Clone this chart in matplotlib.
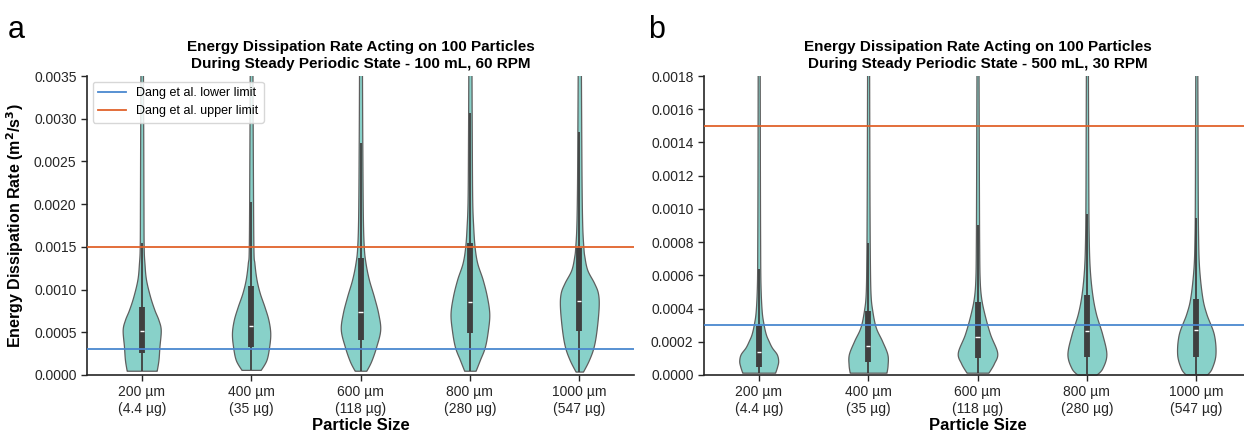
import numpy as np
import matplotlib
matplotlib.use("Agg")
import matplotlib.pyplot as plt

plt.rcParams['font.family'] = ['Liberation Sans', 'DejaVu Sans']

# ---------------- data ----------------
categories = ["200 µm\n(4.4 µg)", "400 µm\n(35 µg)", "600 µm\n(118 µg)",
              "800 µm\n(280 µg)", "1000 µm\n(547 µg)"]

lower_limit = 0.0003
upper_limit = 0.0015

# Panel a: 100 mL, 60 RPM -- violin outlines (value, half-width in category units)
a_prof_y = [
    [0.00005, 0.000176, 0.000333, 0.000528, 0.000646, 0.000763, 0.00092, 0.00112, 0.00131, 0.0015, 0.002, 0.0028, 0.0037],
    [0.00006, 0.000176, 0.000333, 0.00049, 0.000646, 0.0008, 0.00096, 0.00112, 0.00131, 0.0015, 0.0025, 0.0037],
    [0.00005, 0.00016, 0.00033, 0.00053, 0.00072, 0.00092, 0.00112, 0.00131, 0.0015, 0.0019, 0.0028, 0.0037],
    [0.00005, 0.000176, 0.00033, 0.00053, 0.00072, 0.00092, 0.00112, 0.00131, 0.0015, 0.00174, 0.00206, 0.0028, 0.0037],
    [0.00004, 0.000176, 0.00033, 0.00053, 0.0008, 0.00096, 0.00108, 0.00123, 0.00139, 0.0015, 0.00174, 0.0022, 0.003, 0.0037],
]
a_prof_w = [
    [0.137, 0.153, 0.162, 0.174, 0.153, 0.116, 0.076, 0.039, 0.025, 0.018, 0.016, 0.014, 0.011],
    [0.088, 0.14, 0.165, 0.175, 0.158, 0.122, 0.079, 0.049, 0.03, 0.021, 0.016, 0.012],
    [0.053, 0.097, 0.143, 0.18, 0.162, 0.122, 0.076, 0.046, 0.03, 0.021, 0.016, 0.013],
    [0.052, 0.091, 0.137, 0.165, 0.177, 0.155, 0.116, 0.067, 0.043, 0.03, 0.021, 0.017, 0.014],
    [0.034, 0.088, 0.131, 0.158, 0.177, 0.17, 0.134, 0.073, 0.046, 0.037, 0.027, 0.021, 0.017, 0.014],
]
a_q1 = [0.00026, 0.00033, 0.00041, 0.00049, 0.00052]
a_median = [0.00051, 0.00057, 0.00074, 0.00086, 0.00087]
a_q3 = [0.0008, 0.00104, 0.00137, 0.00155, 0.00149]
a_whisk_hi = [0.00154, 0.00203, 0.00272, 0.00307, 0.00285]

# Panel b: 500 mL, 30 RPM
b_prof_y = [
    [0.000014, 0.00005, 0.000085, 0.000125, 0.000166, 0.000206, 0.000246, 0.000307, 0.000388, 0.00055, 0.0008, 0.0012, 0.0019],
    [0.000014, 0.00006, 0.000125, 0.000206, 0.000287, 0.000388, 0.00049, 0.0007, 0.001, 0.0014, 0.0019],
    [0.000014, 0.00007, 0.000135, 0.000246, 0.000368, 0.00047, 0.00059, 0.0008, 0.0011, 0.0015, 0.0019],
    [0.000002, 0.00004, 0.000125, 0.000246, 0.000368, 0.00049, 0.00065, 0.00085, 0.0011, 0.0015, 0.0019],
    [0.000004, 0.00004, 0.000125, 0.000246, 0.000368, 0.00047, 0.00065, 0.00085, 0.0011, 0.0015, 0.0019],
]
b_prof_w = [
    [0.15, 0.168, 0.178, 0.165, 0.12, 0.09, 0.065, 0.044, 0.027, 0.016, 0.013, 0.011, 0.009],
    [0.168, 0.178, 0.176, 0.127, 0.07, 0.038, 0.022, 0.016, 0.013, 0.011, 0.009],
    [0.1, 0.15, 0.18, 0.115, 0.063, 0.032, 0.019, 0.015, 0.013, 0.011, 0.009],
    [0.087, 0.14, 0.178, 0.14, 0.083, 0.048, 0.025, 0.016, 0.013, 0.011, 0.009],
    [0.1, 0.14, 0.175, 0.16, 0.092, 0.054, 0.025, 0.016, 0.013, 0.011, 0.009],
]
b_q1 = [0.00005, 0.00008, 0.0001, 0.000107, 0.000107]
b_median = [0.000141, 0.000172, 0.000228, 0.000267, 0.00027]
b_q3 = [0.000293, 0.000388, 0.00044, 0.000479, 0.00046]
b_whisk_hi = [0.000636, 0.000796, 0.000904, 0.000972, 0.000946]

titles = ["Energy Dissipation Rate Acting on 100 Particles\nDuring Steady Periodic State - 100 mL, 60 RPM",
          "Energy Dissipation Rate Acting on 100 Particles\nDuring Steady Periodic State - 500 mL, 30 RPM"]

# ---------------- style ----------------
FILL = '#88d1c9'
EDGE = '#5e5e5e'
BOXC = '#3f3f3f'
BLUE = '#4a88cf'
ORANGE = '#e0622b'
SPINE = '#262626'


def smooth(y, w, n=12):
    """Catmull-Rom smoothing of the outline for drawing."""
    y = np.asarray(y, float)
    w = np.asarray(w, float)
    P = np.column_stack([y, w])
    P = np.vstack([P[0], P, P[-1]])
    out = []
    for i in range(1, len(P) - 2):
        p0, p1, p2, p3 = P[i - 1], P[i], P[i + 1], P[i + 2]
        for t in np.linspace(0, 1, n, endpoint=False):
            t2, t3 = t * t, t * t * t
            pt = 0.5 * ((2 * p1) + (-p0 + p2) * t + (2 * p0 - 5 * p1 + 4 * p2 - p3) * t2
                        + (-p0 + 3 * p1 - 3 * p2 + p3) * t3)
            out.append(pt)
    out.append(P[-2])
    out = np.array(out)
    return out[:, 0], np.clip(out[:, 1], 0, None)


def draw_panel(ax, prof_y, prof_w, q1, med, q3, whi, ylim, yticks, title, legend):
    for i in range(len(categories)):
        ys, ws = smooth(prof_y[i], prof_w[i])
        ax.fill_betweenx(ys, i - ws, i + ws, facecolor=FILL, edgecolor=EDGE,
                         linewidth=0.9, zorder=2)
        lo = prof_y[i][0]
        ax.plot([i, i], [lo, whi[i]], color=BOXC, lw=1.3, zorder=3,
                solid_capstyle='butt')
        ax.plot([i, i], [q1[i], q3[i]], color=BOXC, lw=4.2, zorder=4,
                solid_capstyle='butt')
        ax.plot([i - 0.02, i + 0.02], [med[i], med[i]], color='white', lw=1.0,
                zorder=5, solid_capstyle='butt')
    ax.axhline(lower_limit, color=BLUE, lw=1.3, zorder=6, label='Dang et al. lower limit')
    ax.axhline(upper_limit, color=ORANGE, lw=1.3, zorder=6, label='Dang et al. upper limit')
    ax.set_xlim(-0.5, len(categories) - 0.5)
    ax.set_ylim(*ylim)
    ax.set_yticks(yticks)
    ax.set_yticklabels([f"{v:.4f}" for v in yticks])
    ax.set_xticks(range(len(categories)))
    ax.set_xticklabels(categories)
    ax.tick_params(axis='both', labelsize=10, colors=SPINE, length=4, width=1)
    for s in ['top', 'right']:
        ax.spines[s].set_visible(False)
    for s in ['left', 'bottom']:
        ax.spines[s].set_color(SPINE)
        ax.spines[s].set_linewidth(1.2)
    ax.set_title(title, fontsize=11, fontweight='bold', pad=6, linespacing=1.25)
    ax.set_xlabel("Particle Size", fontsize=12, fontweight='bold', labelpad=2)
    if legend:
        ax.legend(loc='upper left', fontsize=9, frameon=True, handlelength=2.2,
                  handletextpad=0.8, borderpad=0.45, labelspacing=0.45,
                  fancybox=True, framealpha=0.85, edgecolor='#d0d0d0',
                  borderaxespad=0.45)


fig = plt.figure(figsize=(12.44, 4.32), dpi=100)
ax1 = fig.add_axes([87 / 1244, 1 - 375 / 432, 547 / 1244, 299 / 432])
ax2 = fig.add_axes([704 / 1244, 1 - 375 / 432, 547 / 1244, 299 / 432])

draw_panel(ax1, a_prof_y, a_prof_w, a_q1, a_median, a_q3, a_whisk_hi,
           (0, 0.0035), np.arange(0, 0.00351, 0.0005), titles[0], True)
draw_panel(ax2, b_prof_y, b_prof_w, b_q1, b_median, b_q3, b_whisk_hi,
           (0, 0.0018), np.arange(0, 0.00181, 0.0002), titles[1], False)

ax1.set_ylabel("Energy Dissipation Rate (m$^\\mathbf{2}$/s$^\\mathbf{3}$)",
               fontsize=11.5, fontweight='bold', labelpad=6)

fig.text(8 / 1244, 1 - 38 / 432, "a", fontsize=22, va='baseline', ha='left')
fig.text(648 / 1244, 1 - 38 / 432, "b", fontsize=22, va='baseline', ha='left')

fig.savefig("out.png", dpi=100)
